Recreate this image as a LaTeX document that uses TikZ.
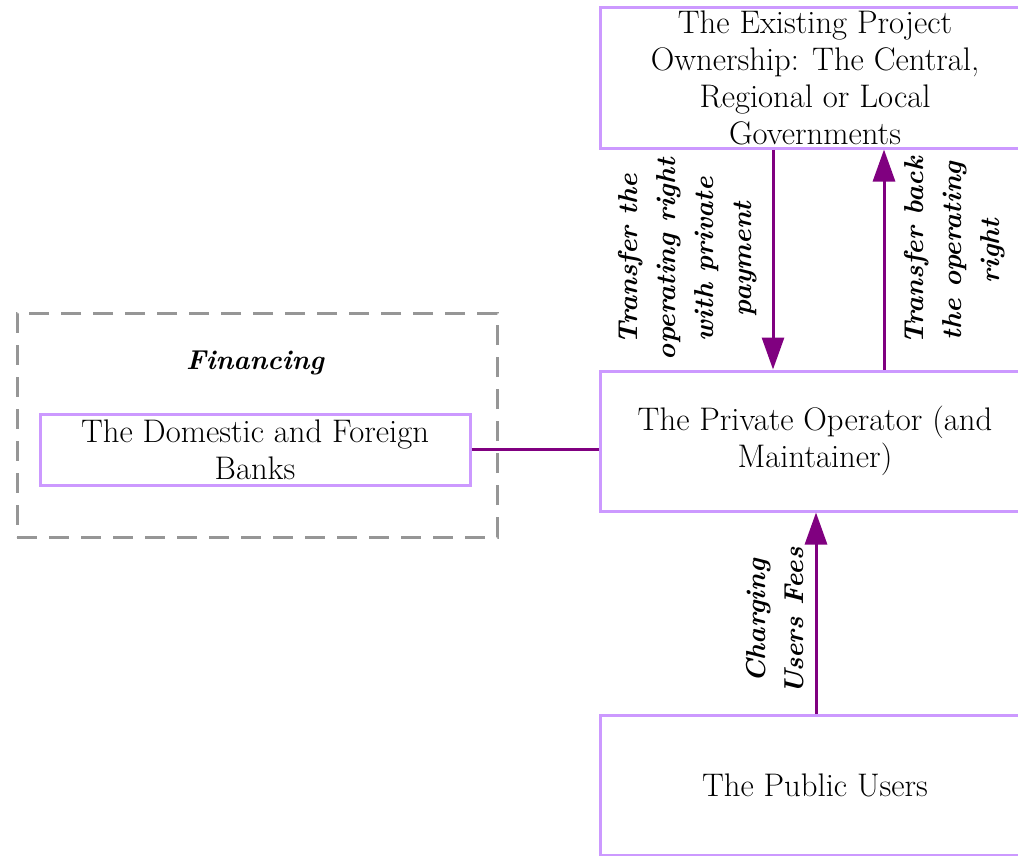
\documentclass[tikz,border=0pt]{standalone}
\usetikzlibrary{arrows.meta}
\definecolor{boxc}{RGB}{204,153,255}
\definecolor{arrc}{RGB}{128,0,128}
\definecolor{dashc}{RGB}{150,150,150}
\begin{document}
\begin{tikzpicture}[x=0.75pt,y=-0.75pt,
  every node/.style={font=\fontsize{24.5}{27.75}\selectfont, inner sep=0pt, align=center},
  bigbox/.style={draw=boxc, line width=2.25pt, minimum width=322.5pt, minimum height=105pt},
  bankbox/.style={draw=boxc, line width=2.25pt, minimum width=322.5pt, minimum height=53.25pt},
  finbox/.style={draw=dashc, line width=2.25pt, dash pattern=on 15pt off 9pt, minimum width=360pt, minimum height=168pt},
  arr/.style={draw=arrc, line width=2.25pt, -{Triangle[length=24pt,width=16.5pt]}},
  conn/.style={draw=arrc, line width=2.25pt},
  bi/.style={font=\fontsize{20.5}{28.5}\selectfont\bfseries\itshape},
  lbl/.style={bi, rotate=90}]
\clip (0,0) rectangle (1018,856);
\fill[white] (0,0) rectangle (1018,856);
\node[finbox] (fin) at (257,425) {};
\node[bi] (fint) at (255,363) {Financing};
\node[bankbox] (bank) at (255,449.5) {The Domestic and Foreign\\Banks};
\node[bigbox] (own) at (815,78) {The Existing Project\\Ownership: The Central,\\Regional or Local\\Governments};
\node[bigbox] (op) at (815,441) {The Private Operator (and\\Maintainer)};
\node[bigbox] (pub) at (815,785.5) {The Public Users};
\coordinate (xa) at (773,0);
\coordinate (xb) at (884,0);
\coordinate (xc) at (816,0);
\draw[arr] (own.south -| xa) -- (op.north -| xa);
\draw[arr] (op.north -| xb) -- (own.south -| xb);
\draw[arr] (pub.north -| xc) -- (op.south -| xc);
\draw[conn] (bank.east) -- (op.west |- bank.east);
\node[lbl] (l1) at (688,259) {Transfer the\\operating right\\with private\\payment};
\node[lbl] (l2) at (955,251) {Transfer back\\the operating\\right};
\node[lbl] (l3) at (775,621) {Charging\\Users Fees};
\end{tikzpicture}
\end{document}
